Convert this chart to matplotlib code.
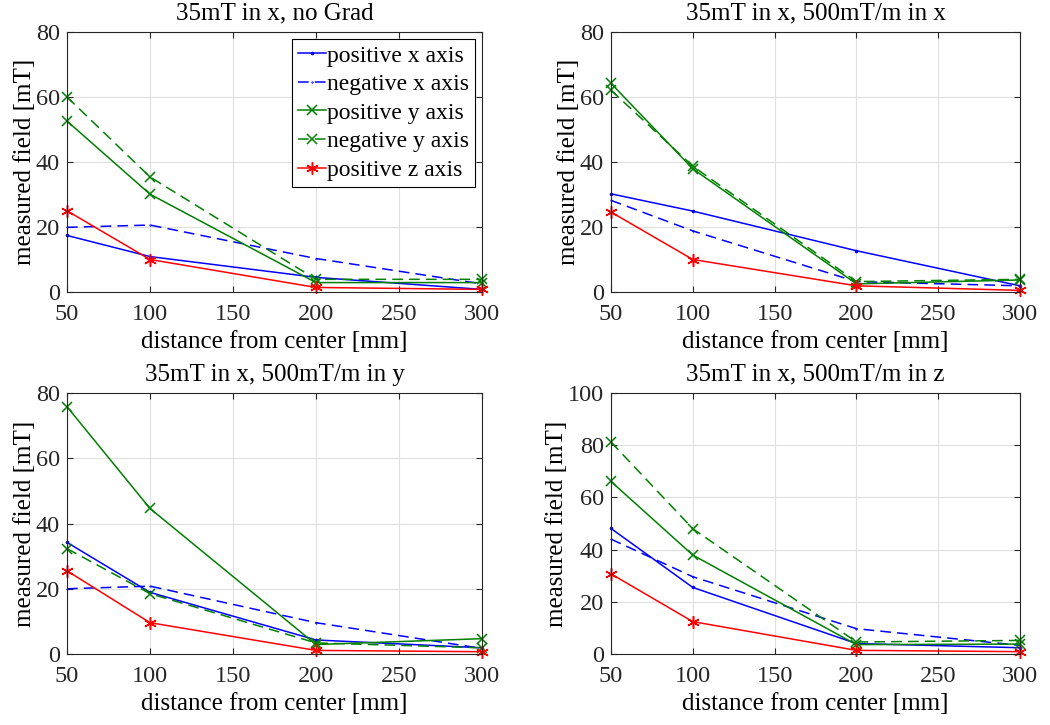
import matplotlib
matplotlib.use('Agg')
import matplotlib.pyplot as plt

plt.rcParams['font.family'] = ['Liberation Serif', 'DejaVu Serif']

distancia = [50, 100, 200, 300]

titulos = ['35mT in x, no Grad', '35mT in x, 500mT/m in x',
           '35mT in x, 500mT/m in y', '35mT in x, 500mT/m in z']
etiquetas = ['positive x axis', 'negative x axis', 'positive y axis',
             'negative y axis', 'positive z axis']

# valores [mT]
sin_grad_pos_x = [17.4, 10.9, 4.5, 0.8]
sin_grad_neg_x = [19.9, 20.6, 10.3, 2.5]
sin_grad_pos_y = [52.6, 30.1, 2.9, 2.9]
sin_grad_neg_y = [60.0, 35.4, 3.9, 3.9]
sin_grad_pos_z = [25.0, 10.0, 1.4, 0.8]

grad_x_pos_x = [30.2, 24.9, 12.7, 1.9]
grad_x_neg_x = [28.2, 18.8, 3.2, 1.9]
grad_x_pos_y = [64.2, 37.9, 2.5, 3.7]
grad_x_neg_y = [62.1, 38.7, 3.2, 3.9]
grad_x_pos_z = [24.6, 10.0, 1.9, 0.5]

grad_y_pos_x = [34.2, 18.9, 4.3, 1.9]
grad_y_neg_x = [20.0, 20.8, 9.6, 1.7]
grad_y_pos_y = [75.8, 44.6, 2.9, 4.7]
grad_y_neg_y = [32.3, 18.5, 3.4, 1.9]
grad_y_pos_z = [25.5, 9.6, 1.1, 0.7]

grad_z_pos_x = [48.1, 25.5, 4.0, 2.4]
grad_z_neg_x = [44.0, 29.6, 9.7, 3.3]
grad_z_pos_y = [66.1, 37.9, 3.6, 3.8]
grad_z_neg_y = [81.2, 48.0, 4.6, 5.2]
grad_z_pos_z = [30.7, 12.4, 1.4, 0.9]

datos = [
    [sin_grad_pos_x, sin_grad_neg_x, sin_grad_pos_y, sin_grad_neg_y, sin_grad_pos_z],
    [grad_x_pos_x, grad_x_neg_x, grad_x_pos_y, grad_x_neg_y, grad_x_pos_z],
    [grad_y_pos_x, grad_y_neg_x, grad_y_pos_y, grad_y_neg_y, grad_y_pos_z],
    [grad_z_pos_x, grad_z_neg_x, grad_z_pos_y, grad_z_neg_y, grad_z_pos_z],
]
limites_y = [80, 80, 80, 100]

# asterisco de 6 brazos como el '*' de MATLAB
asterisco = (6, 2, 0)
estilos = [
    dict(color='#0000ff', linestyle='-', marker='.', markersize=3),
    dict(color='#0000ff', linestyle=(0, (7, 4)), marker='.', markersize=1),
    dict(color='#008000', linestyle='-', marker='x', markersize=7),
    dict(color='#008000', linestyle=(0, (7, 4)), marker='x', markersize=7),
    dict(color='#ff0000', linestyle='-', marker=asterisco, markersize=9),
]

gris = '#262626'
fig = plt.figure(figsize=(10.5, 7.25), dpi=100)
# posiciones de los ejes en pixeles (izq, arriba, der, abajo)
cajas = [(67, 32, 482, 292), (611, 32, 1020, 292),
         (67, 393, 482, 654), (611, 393, 1020, 654)]

for i in range(4):
    l, t, r, b = cajas[i]
    ax = fig.add_axes([l / 1050, 1 - b / 725, (r - l) / 1050, (b - t) / 725])
    for serie, estilo, etiqueta in zip(datos[i], estilos, etiquetas):
        ax.plot(distancia, serie, label=etiqueta, linewidth=1.1,
                markeredgewidth=1.1, clip_on=False, **estilo)
    ax.set_xlim(50, 300)
    ax.set_ylim(0, limites_y[i])
    ax.set_xticks([50, 100, 150, 200, 250, 300])
    ax.set_yticks(range(0, limites_y[i] + 1, 20))
    ax.grid(True, color='#dfdfdf', linewidth=0.8)
    ax.set_axisbelow(True)
    ax.tick_params(axis='x', pad=9)
    ax.tick_params(axis='y', pad=5)
    ax.tick_params(direction='in', top=True, right=True, labelsize=17.5,
                   colors=gris, length=4)
    for lado in ax.spines.values():
        lado.set_color(gris)
        lado.set_linewidth(0.8)
    ax.set_title(titulos[i], fontsize=18, color='black', pad=9)
    ax.set_xlabel('distance from center [mm]', fontsize=18, color='black', labelpad=4)
    ax.set_ylabel('measured field [mT]', fontsize=18, color='black', labelpad=0)
    if i == 0:
        leg = ax.legend(loc='upper right', fontsize=17, fancybox=False,
                        framealpha=1, edgecolor='black', handlelength=1.2,
                        handletextpad=0.05, borderpad=0.25, labelspacing=0.3,
                        borderaxespad=0.3)
        leg.get_frame().set_linewidth(0.8)

fig.savefig('out.png', dpi=100)
